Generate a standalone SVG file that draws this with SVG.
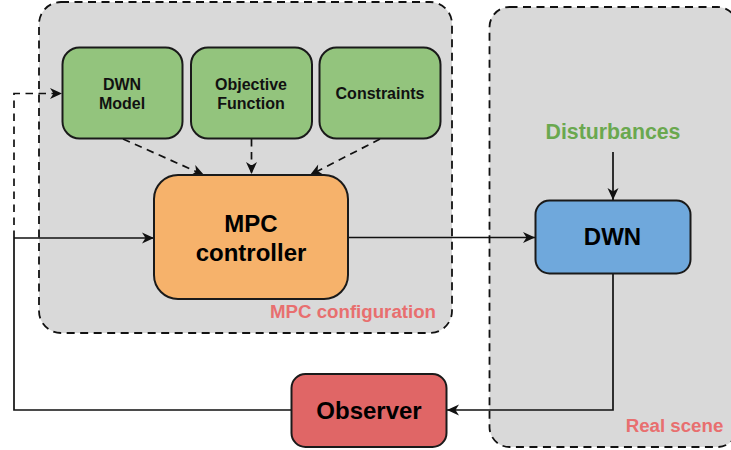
<svg xmlns="http://www.w3.org/2000/svg" width="731" height="450" viewBox="0 0 731 450">
<style>
text{font-family:"Liberation Sans",Arial,sans-serif;font-weight:700;text-anchor:middle}
.region{fill:#d9d9d9;stroke:#111;stroke-width:1.8;stroke-dasharray:8 5.500}
.node{stroke:#1a1a1a;stroke-width:2}
.green{fill:#93c47d}
.small{font-size:16px;fill:#111}
.big{font-size:24px;fill:#000}
.red{font-size:18.700px;fill:#e86f6f}
.con{fill:none;stroke:#111;stroke-width:1.700}
.dash{stroke-dasharray:7.500 5.500}
</style>
<defs>
<marker id="arrow" markerUnits="userSpaceOnUse" markerWidth="14" markerHeight="14" refX="13" refY="7" orient="auto">
<path d="M1 1.500L13 7L1 12.500L4.500 7Z" fill="#111"/>
</marker>
</defs>
<g id="region-mpc"><rect class="region" x="39" y="2" width="413" height="331" rx="22"/><text class="red" x="353" y="318">MPC configuration</text></g>
<g id="region-real"><rect class="region" x="489.500" y="7" width="248" height="440" rx="20"/><text class="red" x="674.500" y="432">Real scene</text></g>
<g id="connectors">
<path class="con dash" d="M14 238V93.500H62" marker-end="url(#arrow)"/>
<path class="con dash" d="M123 139L204 175" marker-end="url(#arrow)"/>
<path class="con dash" d="M251.500 139V174" marker-end="url(#arrow)"/>
<path class="con dash" d="M380 139L310 175" marker-end="url(#arrow)"/>
<path class="con" d="M14 238H154" marker-end="url(#arrow)"/>
<path class="con" d="M348 237.500H535" marker-end="url(#arrow)"/>
<path class="con" d="M613 152V200" marker-end="url(#arrow)"/>
<path class="con" d="M613 274V410H447" marker-end="url(#arrow)"/>
<path class="con" d="M292 410H14V238"/>
</g>
<g id="node-dwn-model"><rect class="node green" x="62.500" y="47.500" width="120" height="91" rx="17"/><text class="small" x="122" y="90">DWN</text><text class="small" x="122" y="109">Model</text></g>
<g id="node-objective"><rect class="node green" x="191" y="47.500" width="121" height="91" rx="17"/><text class="small" x="251" y="90">Objective</text><text class="small" x="251" y="109">Function</text></g>
<g id="node-constraints"><rect class="node green" x="319.500" y="47.500" width="121" height="91" rx="17"/><text class="small" x="380" y="99">Constraints</text></g>
<g id="node-mpc"><rect class="node" fill="#f6b26b" x="154" y="175" width="194" height="124" rx="24"/><text class="big" x="251" y="232">MPC</text><text class="big" x="251" y="261">controller</text></g>
<g id="node-dwn"><rect class="node" fill="#6fa8dc" x="535.500" y="200.500" width="155" height="73" rx="14"/><text class="big" x="612.500" y="245">DWN</text></g>
<g id="node-observer"><rect class="node" fill="#e06666" x="291.500" y="374" width="155" height="73" rx="14"/><text class="big" x="369" y="419">Observer</text></g>
<g id="label-disturbances"><text x="613" y="139" font-size="21.300" fill="#6aa84f">Disturbances</text></g>
</svg>
